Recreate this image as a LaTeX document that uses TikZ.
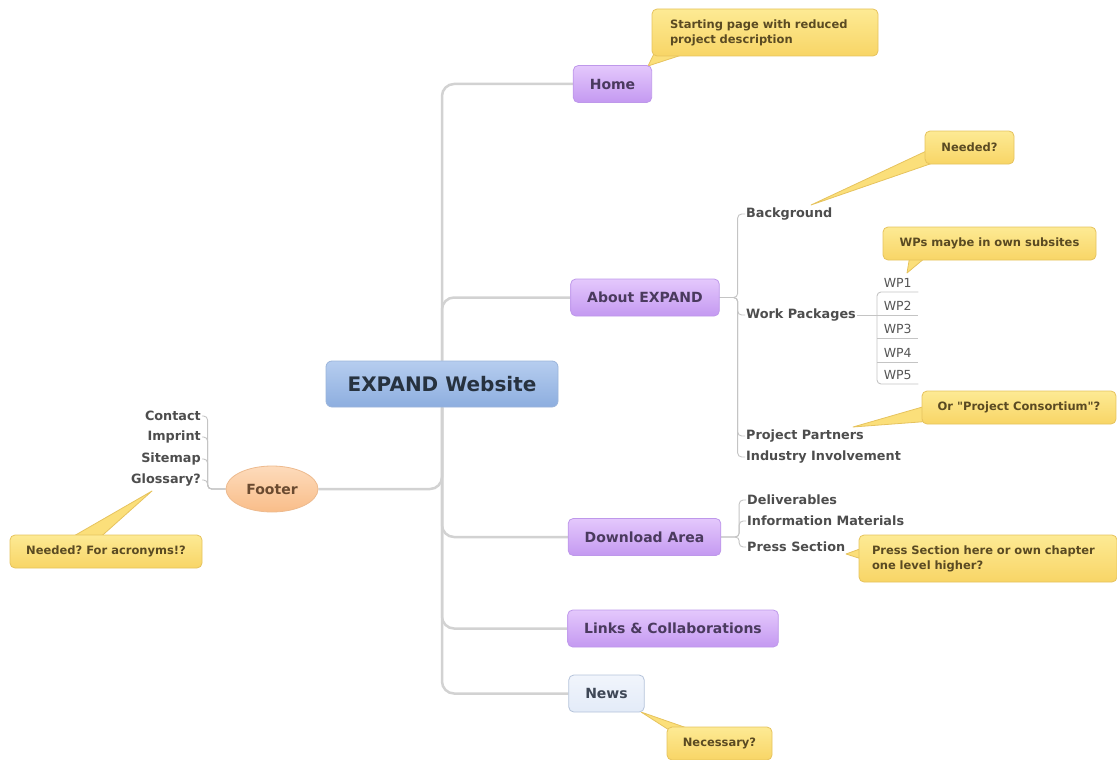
\documentclass[tikz,border=0pt]{standalone}
\usepackage{fontspec}
\setmainfont{DejaVu Sans}[Ligatures=TeXOff]
\usepackage{xcolor}
\usepackage{tikz}
\usetikzlibrary{positioning}
\usetikzlibrary{shapes.geometric}
\pgfdeclarelayer{nodelayer}
\pgfdeclarelayer{edgelayer}
\pgfsetlayers{edgelayer,nodelayer,main}
\frenchspacing
\definecolor{centraltop}{HTML}{B6CDEF}
\definecolor{centralbot}{HTML}{8DAEDF}
\definecolor{centralline}{HTML}{9AB4DA}
\definecolor{centraltext}{HTML}{27323F}
\definecolor{topictop}{HTML}{E4C8FC}
\definecolor{topicbot}{HTML}{C499F1}
\definecolor{topicline}{HTML}{BE98EA}
\definecolor{topictext}{HTML}{4A3A5E}
\definecolor{newstop}{HTML}{F1F5FC}
\definecolor{newsbot}{HTML}{E3EBF8}
\definecolor{newsline}{HTML}{B4C3DA}
\definecolor{newstext}{HTML}{3E4756}
\definecolor{foottop}{HTML}{FDDBBB}
\definecolor{footbot}{HTML}{F9BD89}
\definecolor{footline}{HTML}{EDBA8E}
\definecolor{foottext}{HTML}{6A4A30}
\definecolor{notetop}{HTML}{FDEA94}
\definecolor{notebot}{HTML}{F8D566}
\definecolor{notemid}{HTML}{FBDF7A}
\definecolor{noteline}{HTML}{E6C35E}
\definecolor{notetext}{HTML}{5A4A22}
\definecolor{subtext}{HTML}{4D4D4D}
\definecolor{wptext}{HTML}{555555}
\definecolor{trunkgray}{HTML}{D2D2D2}
\definecolor{branchgray}{HTML}{C4C4C4}
\tikzset{
    none/.style = {inner sep=0pt},
    central/.style = {rectangle, rounded corners=6pt, top color=centraltop,
        bottom color=centralbot, draw=centralline, line width=0.8pt,
        minimum width=232pt, minimum height=46pt, text=centraltext,
        font=\fontsize{20}{24}\selectfont\bfseries},
    topic/.style = {rectangle, rounded corners=5pt, top color=topictop,
        bottom color=topicbot, draw=topicline, line width=0.8pt,
        minimum height=37pt, inner xsep=16.5pt, text=topictext,
        font=\fontsize{14}{16}\selectfont\bfseries},
    newsbox/.style = {topic, top color=newstop, bottom color=newsbot,
        draw=newsline, text=newstext},
    footer/.style = {ellipse, top color=foottop, bottom color=footbot,
        draw=footline, line width=0.8pt, minimum width=92pt,
        minimum height=46pt, inner sep=0pt, text=foottext,
        font=\fontsize{14}{16}\selectfont\bfseries},
    note/.style = {rectangle, rounded corners=5pt, top color=notetop,
        bottom color=notebot, draw=noteline, line width=0.8pt,
        minimum height=33pt, align=left, text=notetext,
        font=\fontsize{11.5}{15}\selectfont\bfseries},
    pointer/.style = {fill=notemid, draw=noteline, line width=0.8pt, line join=round},
    sub/.style = {inner sep=1pt, text=subtext,
        font=\fontsize{12.8}{15}\selectfont\bfseries},
    wp/.style = {inner xsep=2pt, inner ysep=4pt, minimum width=41pt,
        anchor=south west, text=wptext, font=\fontsize{12.5}{15}\selectfont},
    trunk/.style = {draw=trunkgray, line width=2.5pt, rounded corners=12pt},
    branch/.style = {draw=branchgray, line width=0.9pt, rounded corners=4pt},
    under/.style = {draw=branchgray, line width=0.9pt}
}
\begin{document}
\begin{tikzpicture}[x=1pt, y=-1pt]
  \useasboundingbox (0, 0) rectangle (1117, 760);
  \begin{pgfonlayer}{nodelayer}
    \node [style=central] (0) at (442, 384) {EXPAND Website};
    \node [style=topic] (1) at (612.5, 84) {Home};
    \node [style=topic] (2) at (645, 297.5) {About EXPAND};
    \node [style=topic] (3) at (644.5, 537) {Download Area};
    \node [style=topic] (4) at (673, 628.5) {Links \& Collaborations};
    \node [style=newsbox] (5) at (606.5, 693.5) {News};
    \node [style=footer] (6) at (272, 489) {Footer};
    \node [style=sub, anchor=west] (10) at (745, 214) {Background};
    \node [style=sub, anchor=west] (11) at (745, 315) {Work Packages};
    \node [style=sub, anchor=west] (12) at (745, 436) {Project Partners};
    \node [style=sub, anchor=west] (13) at (745, 457) {Industry Involvement};
    \node [style=wp] (14) at (877, 292) {WP1};
    \node [style=wp] (15) at (877, 315) {WP2};
    \node [style=wp] (16) at (877, 338) {WP3};
    \node [style=wp] (17) at (877, 362) {WP4};
    \node [style=wp] (18) at (877, 384) {WP5};
    \node [style=sub, anchor=west] (20) at (746, 500) {Deliverables};
    \node [style=sub, anchor=west] (21) at (746, 521) {Information Materials};
    \node [style=sub, anchor=west] (22) at (746, 547) {Press Section};
    \node [style=sub, anchor=east] (30) at (202, 416) {Contact};
    \node [style=sub, anchor=east] (31) at (202, 437) {Imprint};
    \node [style=sub, anchor=east] (32) at (202, 459) {Sitemap};
    \node [style=sub, anchor=east] (33) at (202, 480) {Glossary?};
    \node [style=note, text width=190pt, inner xsep=18pt, minimum height=47pt] (40) at (765, 32.5) {Starting page with reduced\\project description};
    \node [style=note, minimum width=89pt] (41) at (969.5, 147.5) {Needed?};
    \node [style=note, minimum width=213pt] (42) at (989.5, 243.5) {WPs maybe in own subsites};
    \node [style=note, minimum width=194pt] (43) at (1019, 407.5) {Or "Project Consortium"?};
    \node [style=note, text width=232pt, inner xsep=13pt, minimum height=47pt] (44) at (988, 558.5) {Press Section here or own chapter\\one level higher?};
    \node [style=note, minimum width=192pt] (45) at (106, 551.5) {Needed? For acronyms!?};
    \node [style=note, minimum width=105pt] (46) at (719.5, 743.5) {Necessary?};
    \coordinate (50) at (648, 66);
    \coordinate (51) at (811, 205);
    \coordinate (52) at (907, 273);
    \coordinate (53) at (853, 427);
    \coordinate (54) at (846, 554);
    \coordinate (55) at (152, 491);
    \coordinate (56) at (641, 712);
  \end{pgfonlayer}
  \begin{pgfonlayer}{edgelayer}
    % main branches
    \draw [style=trunk] (0.north) |- (1.west);
    \draw [style=trunk] (0.north) |- (2.west);
    \draw [style=trunk] (0.south) |- (3.west);
    \draw [style=trunk] (0.south) |- (4.west);
    \draw [style=trunk] (0.south) |- (5.west);
    \draw [style=trunk] (0.south) |- (6.east);
    % about
    \draw [style=branch] (2.east) -- ++(18, 0) |- (10.west);
    \draw [style=branch] (2.east) -- ++(18, 0) |- (11.west);
    \draw [style=branch] (2.east) -- ++(18, 0) |- (12.west);
    \draw [style=branch] (2.east) -- ++(18, 0) |- (13.west);
    \draw [style=under] (11.east) to (11.east -| 15.south west);
    \draw [style=branch] (14.south east) -- (14.south west) -- (18.south west) -- (18.south east);
    \foreach \n in {15, 16, 17}
      \draw [style=under] (\n.south west) to (\n.south east);
    % download
    \draw [style=branch] (3.east) -- ++(18, 0) |- (20.west);
    \draw [style=branch] (3.east) -- ++(18, 0) |- (21.west);
    \draw [style=branch] (3.east) -- ++(18, 0) |- (22.west);
    % footer
    \foreach \n in {30, 31, 32, 33}
      \draw [style=branch] (6.west) -- ++(-18, 0) |- (\n.east);
    % callouts
    \filldraw [style=pointer] ([xshift=4pt, yshift=6pt]40.south west) -- (50) -- ([xshift=32pt, yshift=2pt]40.south west) -- cycle;
    \filldraw [style=pointer] ([xshift=5pt, yshift=-2pt]41.west) -- (51) -- ([xshift=10pt, yshift=2pt]41.south west) -- cycle;
    \filldraw [style=pointer] ([xshift=27pt, yshift=3pt]42.south west) -- (52) -- ([xshift=43pt, yshift=3pt]42.south west) -- cycle;
    \filldraw [style=pointer] ([xshift=6pt, yshift=2pt]43.west) -- (53) -- ([xshift=6pt, yshift=3pt]43.south west) -- cycle;
    \filldraw [style=pointer] ([xshift=5pt, yshift=-13pt]44.north west) -- (54) -- ([xshift=5pt, yshift=-25pt]44.north west) -- cycle;
    \filldraw [style=pointer] ([xshift=58pt, yshift=-5pt]45.north west) -- (55) -- ([xshift=88pt, yshift=-5pt]45.north west) -- cycle;
    \filldraw [style=pointer] ([xshift=5pt, yshift=-5pt]46.north west) -- (56) -- ([xshift=25pt, yshift=-3pt]46.north west) -- cycle;
  \end{pgfonlayer}
\end{tikzpicture}
\end{document}
